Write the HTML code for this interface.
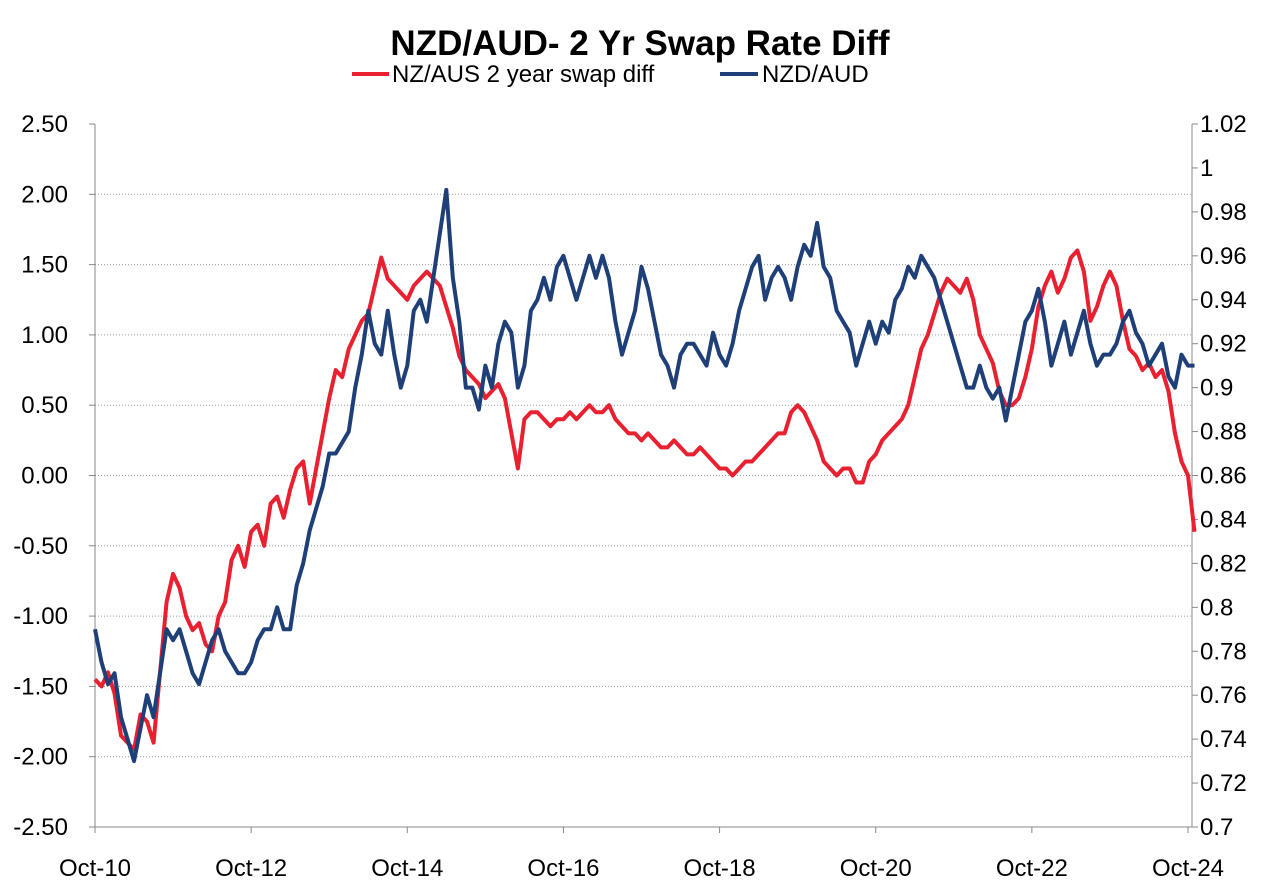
<!DOCTYPE html>
<html><head><meta charset="utf-8">
<style>
body{margin:0;background:#fff;width:1280px;height:888px;overflow:hidden;font-family:"Liberation Sans",sans-serif;}
svg text{font-family:"Liberation Sans",sans-serif;}
</style></head>
<body>
<svg id="chart" width="1280" height="888" xmlns="http://www.w3.org/2000/svg">
<text x="640" y="55" text-anchor="middle" font-size="35" font-weight="bold">NZD/AUD- 2 Yr Swap Rate Diff</text>
<g>
<line x1="352" y1="74" x2="389" y2="74" stroke="#e8202f" stroke-width="4"/>
<text x="392" y="82" font-size="24">NZ/AUS 2 year swap diff</text>
<line x1="720" y1="74" x2="758" y2="74" stroke="#1f3f78" stroke-width="4"/>
<text x="762" y="82" font-size="24">NZD/AUD</text>
</g>
<g id="grid"></g><g id="axes"></g><g id="series"></g>
</svg>
<script>
const leftTicks=[2.5,2.0,1.5,1.0,0.5,0.0,-0.5,-1.0,-1.5,-2.0,-2.5];
const rightTicks=[1.02,1,0.98,0.96,0.94,0.92,0.9,0.88,0.86,0.84,0.82,0.8,0.78,0.76,0.74,0.72,0.7];
const rightTickLabels=["1.02","1","0.98","0.96","0.94","0.92","0.9","0.88","0.86","0.84","0.82","0.8","0.78","0.76","0.74","0.72","0.7"];
const xTickLabels=["Oct-10","Oct-12","Oct-14","Oct-16","Oct-18","Oct-20","Oct-22","Oct-24"];
// monthly from Oct-2010
const swapDiff=[-1.45,-1.5,-1.4,-1.55,-1.85,-1.9,-1.95,-1.7,-1.75,-1.9,-1.4,-0.9,
-0.7,-0.8,-1.0,-1.1,-1.05,-1.2,-1.25,-1.0,-0.9,-0.6,-0.5,-0.65,
-0.4,-0.35,-0.5,-0.2,-0.15,-0.3,-0.1,0.05,0.1,-0.2,0.05,0.3,
0.55,0.75,0.7,0.9,1.0,1.1,1.15,1.35,1.55,1.4,1.35,1.3,
1.25,1.35,1.4,1.45,1.4,1.35,1.2,1.05,0.85,0.75,0.7,0.65,
0.55,0.6,0.65,0.55,0.3,0.05,0.4,0.45,0.45,0.4,0.35,0.4,
0.4,0.45,0.4,0.45,0.5,0.45,0.45,0.5,0.4,0.35,0.3,0.3,
0.25,0.3,0.25,0.2,0.2,0.25,0.2,0.15,0.15,0.2,0.15,0.1,
0.05,0.05,0.0,0.05,0.1,0.1,0.15,0.2,0.25,0.3,0.3,0.45,
0.5,0.45,0.35,0.25,0.1,0.05,0.0,0.05,0.05,-0.05,-0.05,0.1,
0.15,0.25,0.3,0.35,0.4,0.5,0.7,0.9,1.0,1.15,1.3,1.4,
1.35,1.3,1.4,1.25,1.0,0.9,0.8,0.6,0.5,0.5,0.55,0.7,
0.9,1.2,1.35,1.45,1.3,1.4,1.55,1.6,1.45,1.1,1.2,1.35,
1.45,1.35,1.1,0.9,0.85,0.75,0.8,0.7,0.75,0.6,0.3,0.1,
0.0,-0.4];
const nzdAud=[0.79,0.775,0.765,0.77,0.75,0.74,0.73,0.745,0.76,0.75,0.77,0.79,
0.785,0.79,0.78,0.77,0.765,0.775,0.785,0.79,0.78,0.775,0.77,0.77,
0.775,0.785,0.79,0.79,0.8,0.79,0.79,0.81,0.82,0.835,0.845,0.855,
0.87,0.87,0.875,0.88,0.9,0.915,0.935,0.92,0.915,0.935,0.915,0.9,
0.91,0.935,0.94,0.93,0.95,0.97,0.99,0.95,0.93,0.9,0.9,0.89,
0.91,0.9,0.92,0.93,0.925,0.9,0.91,0.935,0.94,0.95,0.94,0.955,
0.96,0.95,0.94,0.95,0.96,0.95,0.96,0.95,0.93,0.915,0.925,0.935,
0.955,0.945,0.93,0.915,0.91,0.9,0.915,0.92,0.92,0.915,0.91,0.925,
0.915,0.91,0.92,0.935,0.945,0.955,0.96,0.94,0.95,0.955,0.95,0.94,
0.955,0.965,0.96,0.975,0.955,0.95,0.935,0.93,0.925,0.91,0.92,0.93,
0.92,0.93,0.925,0.94,0.945,0.955,0.95,0.96,0.955,0.95,0.94,0.93,
0.92,0.91,0.9,0.9,0.91,0.9,0.895,0.9,0.885,0.9,0.915,0.93,
0.935,0.945,0.93,0.91,0.92,0.93,0.915,0.925,0.935,0.92,0.91,0.915,
0.915,0.92,0.93,0.935,0.925,0.92,0.91,0.915,0.92,0.905,0.9,0.915,
0.91,0.91];
const X0=95,X1=1192,YT=124,YB=827;
const xScale=m=>X0+m*(1093/168);
const yL=v=>YT+(2.5-v)*(YB-YT)/5;
const yR=v=>YT+(1.02-v)*(YB-YT)/0.32;
const NS="http://www.w3.org/2000/svg";
function mk(tag,attrs,parent,txt){const e=document.createElementNS(NS,tag);for(const k in attrs)e.setAttribute(k,attrs[k]);if(txt!==undefined)e.textContent=txt;parent.appendChild(e);return e;}
const grid=document.getElementById('grid'),axes=document.getElementById('axes'),ser=document.getElementById('series');
leftTicks.forEach((v,i)=>{
 const y=yL(v);
 if(i>0&&i<leftTicks.length-1){const g=mk('line',{x1:X0,x2:X1,y1:y,y2:y,stroke:'#999','stroke-width':1,'stroke-dasharray':'1,2'},grid);
 
 }
 const t=mk('text',{x:68,y:y+8,'text-anchor':'end','font-size':24},axes,v.toFixed(2));
 
 
 mk('line',{x1:X0-6,x2:X0,y1:y,y2:y,stroke:'#888'},axes);
});
rightTicks.forEach((v,i)=>{
 const y=yR(v);
 const t=mk('text',{x:1200,y:y+8,'font-size':24},axes,rightTickLabels[i]);
 
 
 mk('line',{x1:X1,x2:X1+6,y1:y,y2:y,stroke:'#888'},axes);
});
xTickLabels.forEach((s,i)=>{
 const x=xScale(i*24);
 const t=mk('text',{x:x,y:876,'text-anchor':'middle','font-size':24},axes,s);
 
 
 mk('line',{x1:x,x2:x,y1:YB,y2:YB+6,stroke:'#888'},axes);
});
mk('line',{x1:X0,x2:X0,y1:YT,y2:YB,stroke:'#888'},axes);
mk('line',{x1:X1,x2:X1,y1:YT,y2:YB,stroke:'#888'},axes);
mk('line',{x1:X0,x2:X1,y1:YB,y2:YB,stroke:'#888'},axes);
const pr=mk('polyline',{points:swapDiff.map((v,i)=>xScale(i)+','+yL(v)).join(' '),fill:'none',stroke:'#e8202f','stroke-width':4,'stroke-linejoin':'round'},ser);


const pb=mk('polyline',{points:nzdAud.map((v,i)=>xScale(i)+','+yR(v)).join(' '),fill:'none',stroke:'#1f3f78','stroke-width':4,'stroke-linejoin':'round'},ser);


</script>
</body></html>
